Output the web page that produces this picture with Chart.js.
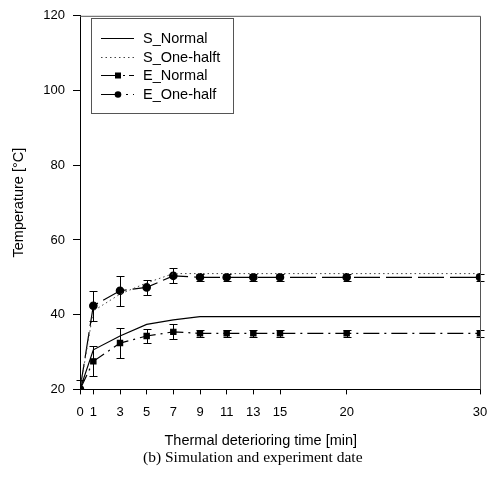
<!DOCTYPE html>
<html>
<head>
<meta charset="utf-8">
<script src="https://cdn.jsdelivr.net/npm/chart.js@4/dist/chart.umd.min.js"></script>
<style>
html,body{margin:0;padding:0;background:#fff;}
canvas{display:block;}
</style>
</head>
<body>
<canvas id="c" width="498" height="479"></canvas>
<script>
// ---- data ----
const times = [0, 1, 3, 5, 7, 9, 11, 13, 15, 20, 30];
const xTickValues = [0, 1, 3, 5, 7, 9, 11, 13, 15, 20, 30];
const yTickValues = [20, 40, 60, 80, 100, 120];
const sNormal = [20, 30.6, 34.3, 37.4, 38.6, 39.5, 39.5, 39.5, 39.5, 39.5, 39.5];
const sOneHalf = [20, 41, 45.5, 48.5, 51, 51, 51, 51, 51, 51, 51];
const eNormal = [20, 27.5, 32.4, 34.3, 35.4, 35, 35, 35, 35, 35, 35];
const eNormalErr = [2.4, 4, 4, 2, 2, 1, 1, 1, 1, 1, 1];
const eOneHalf = [20, 42.4, 46.4, 47.3, 50.4, 50, 50, 50, 50, 50, 50];
const eOneHalfErr = [0, 4, 4, 2, 2, 1, 1, 1, 1, 1, 1];
const seriesNames = ['S_Normal', 'S_One-halft', 'E_Normal', 'E_One-half'];
const xTitle = 'Thermal deterioring time [min]';
const yTitle = 'Temperature [\u00B0C]';
const caption = '(b) Simulation and experiment date';

const pts = (ys) => times.map((t, i) => ({x: t, y: ys[i]}));

const FONT = "'Liberation Sans', Arial, sans-serif";
const SERIF = "'Liberation Serif', 'Times New Roman', serif";

const errorBarPlugin = {
  id: 'errorBars',
  afterDatasetsDraw(chart) {
    const ctx = chart.ctx, ca = chart.chartArea;
    const xs = chart.scales.x, ys = chart.scales.y;
    ctx.save();
    ctx.beginPath();
    ctx.rect(ca.left - 6, ca.top, ca.width + 12, ca.height);
    ctx.clip();
    chart.data.datasets.forEach((ds) => {
      if (!ds.errors) return;
      ctx.strokeStyle = '#000';
      ctx.lineWidth = 1;
      ds.data.forEach((p, i) => {
        const e = ds.errors[i];
        if (!e) return;
        const px = Math.round(xs.getPixelForValue(p.x)) + 0.5;
        const top = Math.round(ys.getPixelForValue(p.y + e)) + 0.5;
        const bot = Math.round(ys.getPixelForValue(p.y - e)) + 0.5;
        ctx.beginPath();
        ctx.moveTo(px, top); ctx.lineTo(px, bot);
        ctx.moveTo(px - 4, top); ctx.lineTo(px + 4, top);
        ctx.moveTo(px - 4, bot); ctx.lineTo(px + 4, bot);
        ctx.stroke();
      });
    });
    ctx.restore();
  }
};

const framePlugin = {
  id: 'frame',
  afterDraw(chart) {
    const ctx = chart.ctx, ca = chart.chartArea;
    ctx.save();
    ctx.strokeStyle = '#555';
    ctx.lineWidth = 1;
    ctx.beginPath();
    ctx.moveTo(ca.left, ca.top + 0.5); ctx.lineTo(ca.right + 0.5, ca.top + 0.5);
    ctx.lineTo(ca.right + 0.5, ca.bottom);
    ctx.stroke();
    // x title
    ctx.fillStyle = '#000';
    ctx.font = '14.5px ' + FONT;
    ctx.textAlign = 'center';
    ctx.textBaseline = 'middle';
    ctx.fillText(xTitle, ca.left + ca.width * 0.452, ca.bottom + 52);
    // caption
    ctx.font = '15.5px ' + SERIF;
    ctx.fillText(caption, ca.left + ca.width * 0.432, ca.bottom + 69);
    ctx.restore();
  }
};

const legendPlugin = {
  id: 'boxLegend',
  afterDraw(chart) {
    const ctx = chart.ctx, ca = chart.chartArea;
    const bx = ca.left + 11, by = ca.top + 2.5, bw = 142, bh = 95;
    ctx.save();
    ctx.strokeStyle = '#555';
    ctx.lineWidth = 1;
    ctx.strokeRect(Math.round(bx) + 0.5, Math.round(by) + 0.5, bw, bh);
    const rows = [by + 19.5, by + 38.5, by + 57, by + 75.5];
    chart.data.datasets.forEach((ds, i) => {
      const y = Math.round(rows[i]) + 0.5;
      const x1 = bx + 10, x2 = bx + 43;
      ctx.strokeStyle = ds.borderColor;
      ctx.lineWidth = ds.borderWidth;
      ctx.setLineDash(ds.legendDash || ds.borderDash || []);
      ctx.beginPath(); ctx.moveTo(x1, y); ctx.lineTo(x2, y); ctx.stroke();
      ctx.setLineDash([]);
      if (ds.pointRadius > 0) {
        ctx.fillStyle = '#000';
        const mx = bx + 27;
        if (ds.pointStyle === 'rect') {
          ctx.fillRect(mx - 3, y - 3, 6, 6);
        } else {
          ctx.beginPath(); ctx.arc(mx, y, 3.3, 0, Math.PI * 2); ctx.fill();
        }
      }
      ctx.fillStyle = '#000';
      ctx.font = '14.5px ' + FONT;
      ctx.textAlign = 'left';
      ctx.textBaseline = 'middle';
      ctx.fillText(ds.label, bx + 52, y);
    });
    ctx.restore();
  }
};

new Chart(document.getElementById('c'), {
  type: 'line',
  data: {
    datasets: [
      {label: seriesNames[0], data: pts(sNormal), borderColor: '#000', borderWidth: 1.2,
       pointRadius: 0, tension: 0},
      {label: seriesNames[1], data: pts(sOneHalf), borderColor: '#444', borderWidth: 1,
       borderDash: [1.5, 3], pointRadius: 0, tension: 0},
      {label: seriesNames[2], data: pts(eNormal), errors: eNormalErr, borderColor: '#000', borderWidth: 1.2,
       borderDash: [16, 5, 2, 5], legendDash: [18, 4, 2, 4], pointStyle: 'rect', pointRadius: 3.7,
       pointBackgroundColor: '#000', pointBorderColor: '#000', tension: 0},
      {label: seriesNames[3], data: pts(eOneHalf), errors: eOneHalfErr, borderColor: '#000', borderWidth: 1.2,
       borderDash: [26, 6], legendDash: [20, 5, 2, 5], pointStyle: 'circle', pointRadius: 3.7,
       pointBackgroundColor: '#000', pointBorderColor: '#000', tension: 0}
    ]
  },
  options: {
    responsive: false,
    animation: false,
    layout: {padding: {left: 0, right: 18, top: 12, bottom: 30.2}},
    plugins: {
      legend: {display: false},
      tooltip: {enabled: false},
      title: {display: false}
    },
    scales: {
      x: {
        type: 'linear', min: 0, max: 30,
        afterBuildTicks: (s) => { s.ticks = xTickValues.map(v => ({value: v})); },
        afterFit: (s) => { s.height = 59.4; },
        grid: {display: true, drawOnChartArea: false, drawTicks: true, tickLength: 5, color: '#000'},
        border: {display: true, color: '#000', width: 1},
        ticks: {color: '#000', padding: 10, maxRotation: 0, autoSkip: false,
                font: {family: FONT, size: 13}}
      },
      y: {
        type: 'linear', min: 20, max: 120,
        afterBuildTicks: (s) => { s.ticks = yTickValues.map(v => ({value: v})); },
        afterFit: (s) => { s.width = 80; },
        grid: {display: true, drawOnChartArea: false, drawTicks: true, tickLength: 7, color: '#000'},
        border: {display: true, color: '#000', width: 1},
        title: {display: true, text: yTitle, color: '#000', font: {family: FONT, size: 14.5},
                padding: {top: 10, bottom: 0}},
        ticks: {color: '#000', padding: 8, font: {family: FONT, size: 13}}
      }
    }
  },
  plugins: [errorBarPlugin, framePlugin, legendPlugin]
});
</script>
</body>
</html>
